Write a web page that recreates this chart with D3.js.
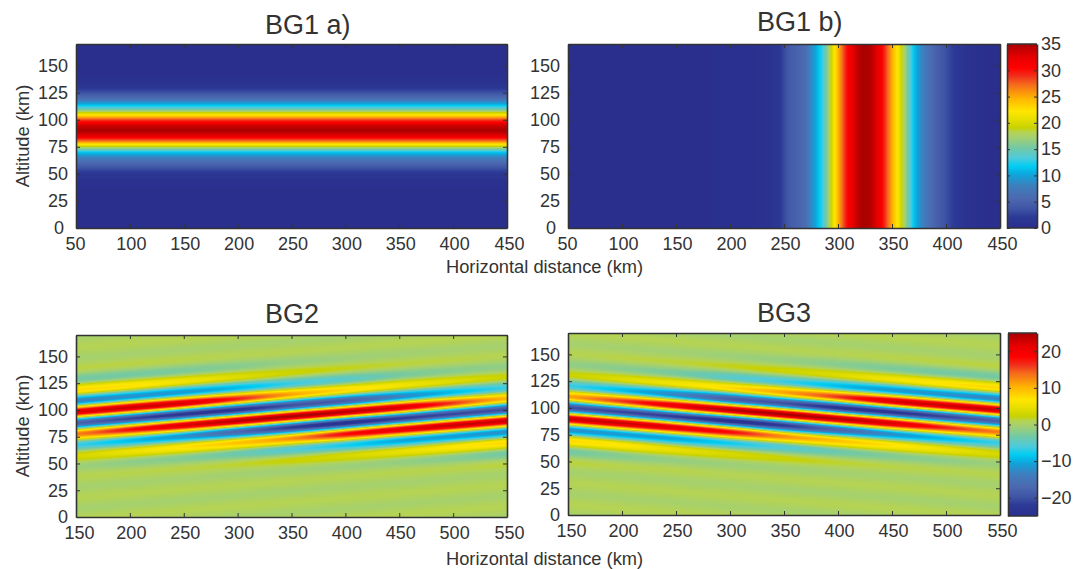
<!DOCTYPE html>
<html><head><meta charset="utf-8">
<script src="https://cdn.jsdelivr.net/npm/d3@7"></script>
<style>
html,body{margin:0;padding:0;background:#fff}
svg{display:block}
text{font-family:"Liberation Sans",Arial,sans-serif;fill:#333}
</style></head><body>
<div id="chart"></div>
<script>
// ---- tick labels
const xTicksTop = [50,100,150,200,250,300,350,400,450];
const xTicksBottom = [150,200,250,300,350,400,450,500,550];
const yTicks = [0,25,50,75,100,125,150];
const cbTicksTop = [0,5,10,15,20,25,30,35];
const cbTicksBottom = [-20,-10,0,10,20];

// ---- colour bar (position 0..1, colour)
const cmapPos = [0,.06,.105,.16,.23,.29,.335,.38,.435,.49,.52,.545,.59,.635,.705,.78,.825,.87,.93,1];
const cmapCol = ["#2a2f8e","#2c3a96","#3f55a5","#4c68b0","#3e7fbe","#0ea5dc","#00cdf2","#4dcbdc","#72c9a5","#a2d072","#b5d354","#c8d200","#e6de00","#ffe600","#ffb400","#f56a1c","#f0301c","#ff0000","#e60000","#a80000"];

// ---- BG1 a): value against altitude, every 5 km from 0 to 170
const bg1aAlt = d3.range(0,171,5);
const bg1aVal = [0,0,0,0,0,0,0,.1,.2,.6,1.5,3.4,5.6,8,11.5,18.5,26.5,32.4,35,33.4,28.4,21.5,14.6,10,6,3.5,1.5,.5,.1,0,0,0,0,0,0];

// ---- BG1 b): value against horizontal distance
const bg1bDist = [50,150,220,...d3.range(230,431,5),440,450];
const bg1bVal = [0,0,.2,.5,.7,1,1.6,3,4.2,4.8,5.4,6.2,8.6,10.5,12.5,16,20.5,24.5,28,31,33,34.5,35,34.5,33,31,28,25,22,18.5,15,11.5,9.4,7.6,6.2,5,4.2,3.4,2.5,1.7,1.1,.7,.4,.2,0,0];

// ---- BG2/BG3: stripe centres, measured at 350 km, and the value along each stripe
const stripeCentre = [184,174,164,154,144,134,124,114,104,94,84,74,64,54,44,34,24,14,4,-6,-16];
const bg2Dist = [150,200,250,300,350,400,450,500,550];
const bg3Dist = [150,200,250,300,350,400,450,500,550];
const bg2Slope = 0.08;
const bg3Slope = -0.08;
const bg2Val = [
[-.1,-.1,-.1,-.1,-.1,-.1,-.1,-.1,-.1],
[1,1,1,1,1,1,1,1,1],
[-.2,-.2,-.2,-.2,-.2,-.2,-.2,-.2,-.2],
[1.2,1.2,1.1,1,1,1,1,1,1],
[-3,-3,-2.6,-2,-1.2,-.8,-.5,-.3,-.2],
[7.5,7,5.5,3.8,2.5,1.8,1.4,1.2,1],
[-13,-12,-11,-9,-6.5,-5,-3,-2,-1.5],
[22,23,22,17,11,7.5,5.5,3.8,2.4],
[-18,-21,-23,-23,-20,-18,-13,-9,-6.5],
[13,18,22,24,25,24,22,16,10],
[-6.5,-9,-12,-17,-22,-24,-22,-21,-20],
[3.2,5,7,9,12,18,21,23,23],
[-.8,-1.5,-2.2,-3.5,-5.5,-7.5,-10,-11,-12],
[1.1,1.1,1.2,1.5,2.2,3.2,4.5,6.5,7.5],
[-.2,-.2,-.2,-.4,-.6,-.8,-1.2,-2,-3],
[1,1,1,1,1,1,1.1,1.1,1.3],
[-.2,-.2,-.2,-.2,-.2,-.2,-.2,-.2,-.2],
[1,1,1,1,1,1,1,1,1],
[-.1,-.1,-.1,-.1,-.1,-.1,-.1,-.1,-.1],
[1,1,1,1,1,1,1,1,1],
[-.1,-.1,-.1,-.1,-.1,-.1,-.1,-.1,-.1]];
const bg3Val = [
[-.1,-.1,-.1,-.1,-.1,-.1,-.1,-.1,-.1],
[1,1,1,1,1,1,1,1,1],
[-.2,-.2,-.2,-.2,-.2,-.2,-.2,-.2,-.2],
[1,1,1,1,1,1,1.1,1.2,1.2],
[-.2,-.3,-.5,-.8,-1.2,-2,-2.6,-3,-3],
[1,1.2,1.4,1.8,2.5,3.8,5.5,7,7.5],
[-1.5,-2,-3,-5,-6.5,-9,-11,-12,-13],
[2.4,3.8,5.5,7.5,11,16,22,23,23],
[-6.5,-9,-13,-18,-20,-23,-23,-21,-18],
[11,16,21,24,25,24,22,17,13],
[-20,-21,-22,-24,-22,-17,-12,-9,-6.5],
[23,23,21,18,12,9,7,5,3.2],
[-12,-11,-10,-7.5,-5.5,-3.5,-2.2,-1.5,-.8],
[7.5,6.5,4.5,3.2,2.2,1.5,1.2,1.1,1.1],
[-3,-2,-1.2,-.8,-.6,-.4,-.2,-.2,-.2],
[1.3,1.1,1.1,1,1,1,1,1,1],
[-.2,-.2,-.2,-.2,-.2,-.2,-.2,-.2,-.2],
[1,1,1,1,1,1,1,1,1],
[-.1,-.1,-.1,-.1,-.1,-.1,-.1,-.1,-.1],
[1,1,1,1,1,1,1,1,1],
[-.1,-.1,-.1,-.1,-.1,-.1,-.1,-.1,-.1]];

const altMax = 170;
const W = 1089, H = 569;
const svg = d3.select("#chart").append("svg").attr("width",W).attr("height",H).attr("viewBox",`0 0 ${W} ${H}`);
const cmap = d3.scaleLinear().domain(cmapPos).range(cmapCol).clamp(true);

function catmull(p0,p1,p2,p3,t){
  return .5*((2*p1)+(-p0+p2)*t+(2*p0-5*p1+4*p2-p3)*t*t+(-p0+3*p1-3*p2+p3)*t*t*t);
}
function sampleUniform(arr,u){
  const n=arr.length;
  u=Math.max(0,Math.min(n-1,u));
  const i=Math.min(n-2,Math.floor(u)),t=u-i;
  return catmull(arr[Math.max(0,i-1)],arr[i],arr[i+1],arr[Math.min(n-1,i+2)],t);
}
function stripeField(rows,dist,slope){
  const sIdx=d3.scaleLinear().domain([stripeCentre[0],stripeCentre[stripeCentre.length-1]]).range([0,stripeCentre.length-1]);
  const xIdx=d3.scaleLinear().domain([dist[0],dist[dist.length-1]]).range([0,dist.length-1]);
  return (x,alt)=>{
    const s=alt-slope*(x-350);
    const col=rows.map(r=>sampleUniform(r,xIdx(x)));
    return sampleUniform(col,sIdx(s));
  };
}
function paint(g,w,h,fn){
  const c=document.createElement("canvas");c.width=w;c.height=h;
  const ctx=c.getContext("2d"),img=ctx.createImageData(w,h);
  for(let j=0;j<h;j++)for(let i=0;i<w;i++){
    const col=d3.rgb(fn(i+.5,j+.5)),k=(j*w+i)*4;
    img.data[k]=col.r;img.data[k+1]=col.g;img.data[k+2]=col.b;img.data[k+3]=255;
  }
  ctx.putImageData(img,0,0);
  g.append("image").attr("width",w).attr("height",h).attr("href",c.toDataURL());
}
const style=a=>{a.selectAll("path.domain").attr("stroke","#333").attr("stroke-width",1.6);
  a.selectAll(".tick line").attr("stroke","#333").attr("stroke-width",1);
  a.selectAll(".tick text").attr("fill","#333").style("font-size","18px").style("font-family",'"Liberation Sans",Arial,sans-serif');};
function box(g,x,y,xt,yt,w,h,firstDx,zeroDx){
  const bottom=g.append("g").attr("transform",`translate(0,${h})`).call(d3.axisBottom(x).tickValues(xt).tickSizeInner(-4).tickSizeOuter(0).tickPadding(9)).call(style);
  bottom.selectAll(".tick text").attr("dx",(d,i)=>i===0?firstDx:(i===xt.length-1?2:1));
  g.append("g").call(d3.axisTop(x).tickValues(xt).tickSizeInner(-4).tickSizeOuter(0).tickFormat("")).call(style);
  const left=g.append("g").call(d3.axisLeft(y).tickValues(yt).tickSizeInner(-4).tickSizeOuter(0).tickPadding(8)).call(style);
  left.selectAll(".tick text").attr("dx",d=>d===0?zeroDx:0);
  g.append("g").attr("transform",`translate(${w},0)`).call(d3.axisRight(y).tickValues(yt).tickSizeInner(-4).tickSizeOuter(0).tickFormat("")).call(style);
}
function panel(p){
  const w=p.x1-p.x0,h=p.y1-p.y0;
  const g=svg.append("g").attr("transform",`translate(${p.x0},${p.y0})`);
  const x=d3.scaleLinear().domain(p.xd).range([0,w]);
  const y=d3.scaleLinear().domain([0,altMax]).range([h,0]);
  paint(g,w,h,(i,j)=>cmap((p.f(x.invert(i),y.invert(j))-p.vmin)/(p.vmax-p.vmin)));
  box(g,x,y,p.xt,yTicks,w,h,p.firstDx,p.zeroDx);
  svg.append("text").attr("x",p.tx).attr("y",p.ty).style("font-size","27px").text(p.title);
  if(p.ylabel) svg.append("text").attr("transform",`translate(29,${(p.y0+p.y1)/2}) rotate(-90)`).attr("text-anchor","middle").style("font-size","18.3px").text("Altitude (km)");
}
function colorbar(c){
  const w=c.x1-c.x0,h=c.y1-c.y0;
  const g=svg.append("g").attr("transform",`translate(${c.x0},${c.y0})`);
  const y=d3.scaleLinear().domain([c.vmin,c.vmax]).range([h,0]);
  paint(g,w,h,(i,j)=>cmap((y.invert(j)-c.vmin)/(c.vmax-c.vmin)));
  g.append("g").call(d3.axisLeft(y).tickValues(c.ticks).tickSizeInner(-3).tickSizeOuter(0).tickFormat("")).call(style);
  g.append("g").attr("transform",`translate(${w},0)`).call(d3.axisRight(y).tickValues(c.ticks).tickSizeInner(-3).tickSizeOuter(0).tickPadding(4).tickFormat(d3.format("d"))).call(style);
  g.append("path").attr("d",`M0,0H${w}M0,${h}H${w}`).attr("stroke","#333").attr("stroke-width",1.6);
}

const fa=d3.scaleLinear().domain(bg1aAlt).range(bg1aVal);
const fb=d3.scaleLinear().domain(bg1bDist).range(bg1bVal);
panel({title:"BG1 a)",tx:265,ty:34,x0:76,x1:507,y0:44,y1:228,xd:[50,450],xt:xTicksTop,firstDx:-1,zeroDx:-4,vmin:0,vmax:35,ylabel:true,f:(x,a)=>fa(a)});
panel({title:"BG1 b)",tx:757,ty:31,x0:568,x1:1000,y0:44,y1:228,xd:[50,450],xt:xTicksTop,firstDx:-1,zeroDx:-4,vmin:0,vmax:35,f:(x,a)=>fb(x)});
panel({title:"BG2",tx:265,ty:323,x0:76,x1:507,y0:335,y1:517,xd:[150,550],xt:xTicksBottom,firstDx:3,zeroDx:0,vmin:-25,vmax:25,ylabel:true,f:stripeField(bg2Val,bg2Dist,bg2Slope)});
panel({title:"BG3",tx:757,ty:322,x0:568,x1:1000,y0:333,y1:515,xd:[150,550],xt:xTicksBottom,firstDx:3,zeroDx:0,vmin:-25,vmax:25,f:stripeField(bg3Val,bg3Dist,bg3Slope)});
colorbar({x0:1007,x1:1037,y0:44,y1:228,vmin:0,vmax:35,ticks:cbTicksTop});
colorbar({x0:1008,x1:1037,y0:333,y1:516,vmin:-25,vmax:25,ticks:cbTicksBottom});
svg.append("text").attr("x",446).attr("y",273).style("font-size","18.3px").text("Horizontal distance (km)");
svg.append("text").attr("x",446).attr("y",565).style("font-size","18.3px").text("Horizontal distance (km)");
</script></body></html>
